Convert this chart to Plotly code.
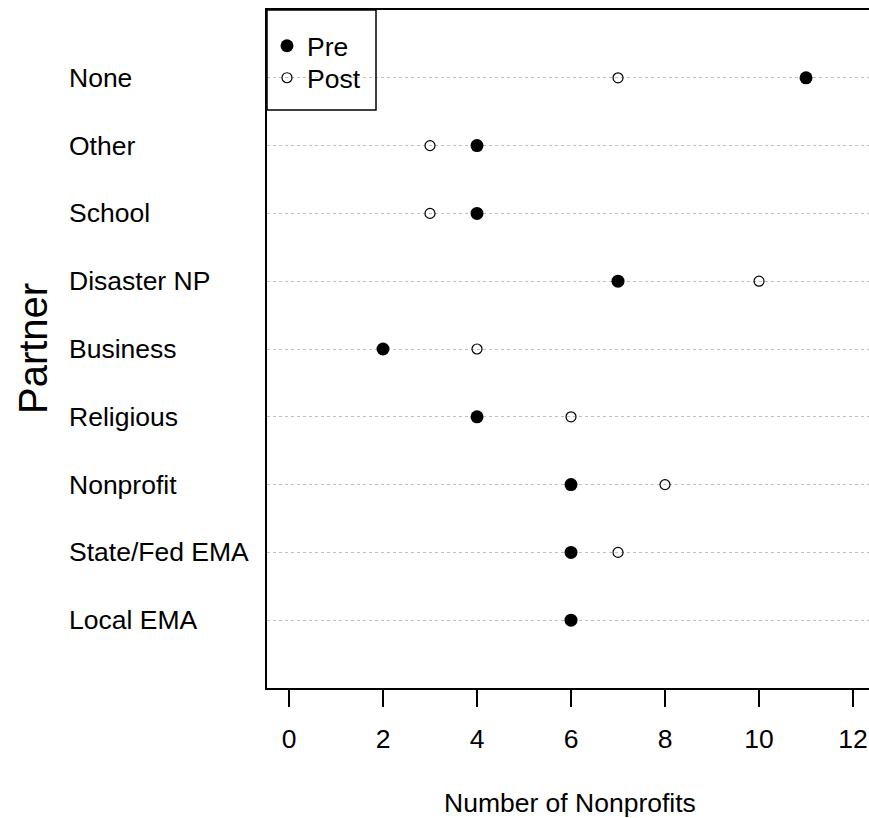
import plotly.graph_objects as go

categories = ["None", "Other", "School", "Disaster NP", "Business",
              "Religious", "Nonprofit", "State/Fed EMA", "Local EMA"]
pre = [11, 4, 4, 7, 2, 4, 6, 6, 6]
post = [7, 3, 3, 10, 4, 6, 8, 7, 6]
x_ticks = [0, 2, 4, 6, 8, 10, 12]

n = len(categories)
ypos = [n - i for i in range(n)]  # None at top

FONT = "Arial, Liberation Sans, sans-serif"
FS = 26.5
W, H = 869, 818
L, R, T, B = 267, 0, 10, 818 - 688
pw, ph = W - L - R, H - T - B


def px_x(px):  # page pixel -> paper x
    return (px - L) / pw


def px_y(py):  # page pixel -> paper y
    return 1 - (py - T) / ph


fig = go.Figure()
fig.add_trace(go.Scatter(
    x=pre, y=ypos, mode="markers", name="Pre", legend="legend",
    marker=dict(symbol="circle", size=13, color="black"),
))
fig.add_trace(go.Scatter(
    x=post, y=ypos, mode="markers", name="Post", legend="legend2",
    marker=dict(symbol="circle-open", size=10, color="black", line=dict(width=1.2, color="black")),
))

for c, y in zip(categories, ypos):
    fig.add_annotation(text=c, x=px_x(67), xref="paper", xanchor="left",
                       y=y, yref="y", yanchor="middle", showarrow=False,
                       font=dict(family=FONT, size=FS, color="black"))

fig.add_annotation(text="Partner", x=px_x(33), xref="paper", xanchor="center",
                   y=0.5, yref="paper", yanchor="middle", textangle=-90, showarrow=False,
                   font=dict(family=FONT, size=40, color="black"))
fig.add_annotation(text="Number of Nonprofits", x=px_x(570), xref="paper", xanchor="center",
                   y=px_y(803), yref="paper", yanchor="middle", showarrow=False,
                   font=dict(family=FONT, size=FS, color="black"))

# legend frame
fig.add_shape(type="rect", xref="paper", yref="paper",
              x0=0, x1=px_x(376), y0=px_y(110), y1=1,
              line=dict(color="black", width=1.5), fillcolor="rgba(0,0,0,0)")

leg = dict(xanchor="left", yanchor="middle", bgcolor="rgba(0,0,0,0)",
           borderwidth=0, font=dict(size=FS, family=FONT, color="black"))

fig.update_layout(
    width=W, height=H,
    margin=dict(l=L, r=R, t=T, b=B, autoexpand=False),
    paper_bgcolor="white", plot_bgcolor="white",
    font=dict(family=FONT, size=FS, color="black"),
    showlegend=True,
    legend=dict(x=0, y=px_y(46), **leg),
    legend2=dict(x=0, y=px_y(78), **leg),
    xaxis=dict(range=[-0.468, 12.34], tickvals=x_ticks, ticks="outside", ticklen=17,
               tickwidth=1.5, tickcolor="black", showgrid=False, zeroline=False,
               showline=True, mirror=True, linecolor="black", linewidth=1.5,
               tickfont=dict(size=FS, family=FONT), ticklabelstandoff=9),
    yaxis=dict(range=[0, n + 1], tickvals=ypos, showticklabels=False, ticks="",
               showgrid=True, gridcolor="#c0c0c0", griddash="dot", gridwidth=1,
               zeroline=False, showline=True, linecolor="black", linewidth=1.5),
)

fig.write_html(
    "out.html",
    config={"displayModeBar": False},
    post_script=(
        "document.documentElement.style.margin='0';"
        "document.documentElement.style.overflow='hidden';"
        "document.body.style.margin='0';"
        "document.body.style.overflow='hidden';"
    ),
)
